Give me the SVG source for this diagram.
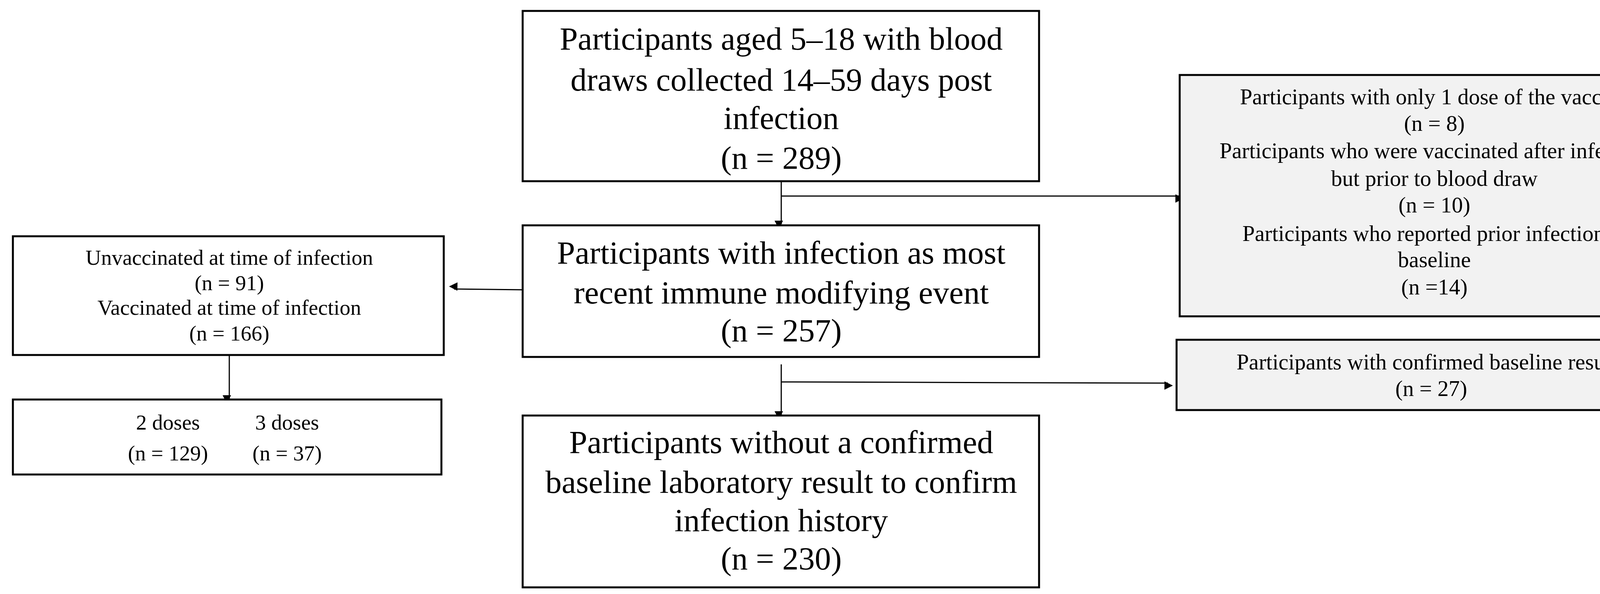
<svg xmlns="http://www.w3.org/2000/svg" width="4345" height="1521" viewBox="0 0 4345 1521">
<style>
.b{fill:#fff;stroke:#000;stroke-width:5}
.g{fill:#f2f2f2;stroke:#000;stroke-width:5}
text{font-family:"Liberation Serif","Times New Roman",serif;fill:#000;text-anchor:middle}
.L{font-size:83px}.S{font-size:57px}.M{font-size:55px}
.c{stroke:#000;stroke-width:3;fill:none}
</style>
<defs><marker id="a" viewBox="0 0 10 10" refX="10" refY="5" markerWidth="9" markerHeight="9" markerUnits="userSpaceOnUse" orient="auto" style="overflow:visible"><path d="M0,0L10,5L0,10z" transform="scale(2.4)" fill="#000"/></marker></defs>
<rect width="4345" height="1521" fill="#fff"/>
<g id="connectors">
<path class="c" d="M2000,464V574" marker-end="url(#a)"/>
<path class="c" d="M2000,502H3018" marker-end="url(#a)"/>
<path class="c" d="M1338,742L1162,740" marker-end="url(#a)"/>
<path class="c" d="M2000,933V1062" marker-end="url(#a)"/>
<path class="c" d="M2000,978L2990,981" marker-end="url(#a)"/>
<path class="c" d="M587,909V1021" marker-end="url(#a)"/>
</g>
<g id="n1"><rect class="b" x="1338" y="28" width="1322" height="436"/>
<text class="L" x="2000" y="127">Participants aged 5–18 with blood</text>
<text class="L" x="2000" y="232">draws collected 14–59 days post</text>
<text class="L" x="2000" y="330">infection</text>
<text class="L" x="2000" y="432">(n = 289)</text></g>
<g id="n2"><rect class="b" x="1338" y="577" width="1322" height="337"/>
<text class="L" x="2000" y="675">Participants with infection as most</text>
<text class="L" x="2000" y="777">recent immune modifying event</text>
<text class="L" x="2000" y="874">(n = 257)</text></g>
<g id="n3"><rect class="b" x="1338" y="1064" width="1322" height="440"/>
<text class="L" x="2000" y="1160">Participants without a confirmed</text>
<text class="L" x="2000" y="1262">baseline laboratory result to confirm</text>
<text class="L" x="2000" y="1360">infection history</text>
<text class="L" x="2000" y="1458">(n = 230)</text></g>
<g id="n4"><rect class="g" x="3020" y="192" width="1308" height="618"/>
<text class="S" x="3672" y="267">Participants with only 1 dose of the vaccine</text>
<text class="S" x="3672" y="335">(n = 8)</text>
<text class="S" x="3672" y="405">Participants who were vaccinated after infection</text>
<text class="S" x="3672" y="476">but prior to blood draw</text>
<text class="S" x="3672" y="544">(n = 10)</text>
<text class="S" x="3672" y="617">Participants who reported prior infection at</text>
<text class="S" x="3672" y="684">baseline</text>
<text class="S" x="3672" y="754">(n =14)</text></g>
<g id="n5"><rect class="g" x="3012" y="870" width="1305" height="180"/>
<text class="S" x="3664" y="946">Participants with confirmed baseline results</text>
<text class="S" x="3664" y="1014">(n = 27)</text></g>
<g id="n6"><rect class="b" x="33" y="605" width="1103" height="304"/>
<text class="M" x="587" y="678">Unvaccinated at time of infection</text>
<text class="M" x="587" y="743">(n = 91)</text>
<text class="M" x="587" y="806">Vaccinated at time of infection</text>
<text class="M" x="587" y="872">(n = 166)</text></g>
<g id="n7"><rect class="b" x="33" y="1023" width="1097" height="192"/>
<text class="M" x="430" y="1100">2 doses</text>
<text class="M" x="735" y="1100">3 doses</text>
<text class="M" x="430" y="1179">(n = 129)</text>
<text class="M" x="735" y="1179">(n = 37)</text></g>
</svg>
